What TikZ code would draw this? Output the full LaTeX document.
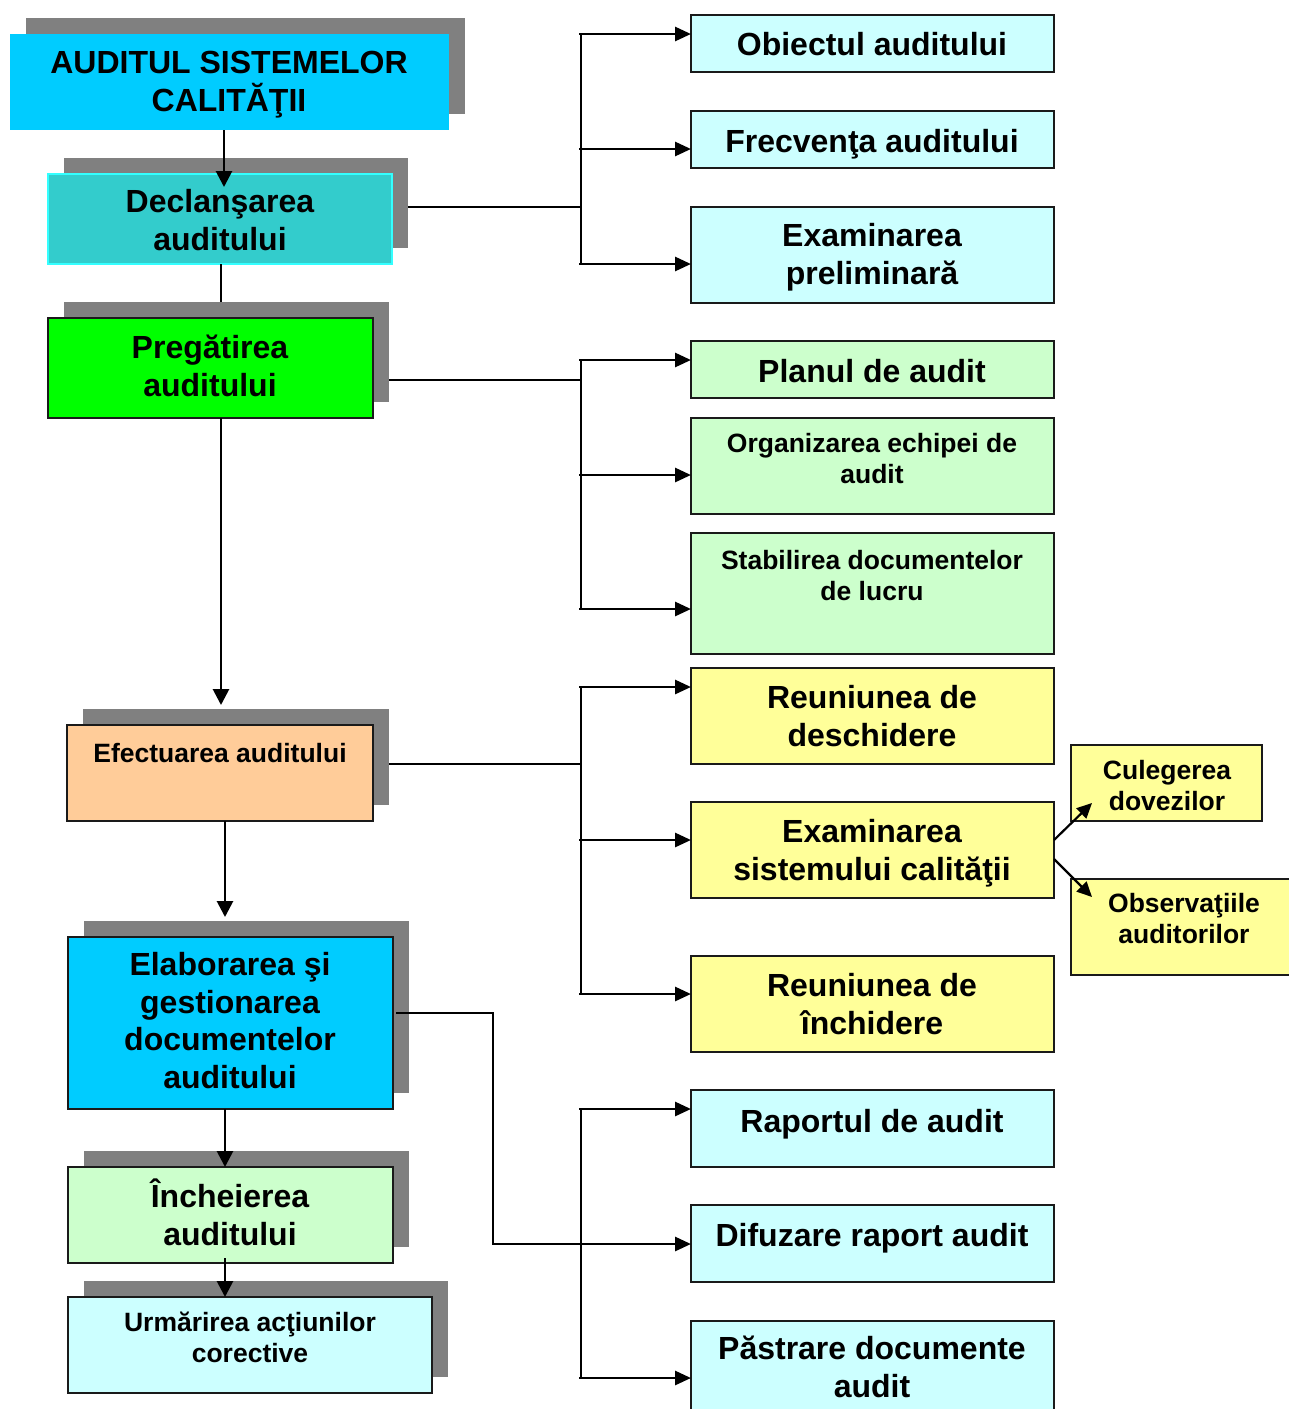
\documentclass[tikz,border=0pt]{standalone}
\usepackage{fontspec}
\setmainfont{Liberation Sans}
\usetikzlibrary{arrows.meta,shadows,calc}

\definecolor{shadowgray}{HTML}{808080}
\definecolor{topcyan}{HTML}{00CCFF}
\definecolor{teal}{HTML}{33CCCC}
\definecolor{tealedge}{HTML}{33FFFF}
\definecolor{brightgreen}{HTML}{00FF00}
\definecolor{peach}{HTML}{FFCC99}
\definecolor{palegreen}{HTML}{CCFFCC}
\definecolor{palecyan}{HTML}{CCFFFF}
\definecolor{paleyellow}{HTML}{FFFF99}
\definecolor{edge}{HTML}{1A1A1A}

% Multi-line labels are anchored at the baseline of their last line.
\tikzset{
  big/.style={font=\fontsize{32}{37.5}\selectfont\bfseries, align=center, anchor=base, inner sep=0pt},
  small/.style={font=\fontsize{26.5}{30.5}\selectfont\bfseries, align=center, anchor=base, inner sep=0pt},
  box/.style={rectangle, draw=edge, line width=2pt, anchor=north west, inner sep=0pt, outer sep=0pt},
  shadowed/.style={drop shadow={shadow xshift=16pt, shadow yshift=16pt, fill=shadowgray, opacity=1}},
  arr/.style={line width=2.8pt, -{Triangle[length=16pt,width=16pt]}},
  sidearr/.style={line width=2.8pt, -{Triangle[length=16pt,width=14pt]}},
  diagarr/.style={line width=2.2pt, -{Triangle[length=15pt,width=14pt]}},
  ln/.style={line width=2.8pt},
  thinln/.style={line width=1.8pt},
}

\begin{document}
\begin{tikzpicture}[x=1pt,y=-1pt]
\useasboundingbox (0,0) rectangle (1289,1409);

% ---- main process column (shadowed boxes) ----
\node[box, shadowed, draw=none, fill=topcyan, minimum width=439pt, minimum height=96pt] (b1) at (10,34) {};
\node[box, shadowed, draw=tealedge, fill=teal, minimum width=344pt, minimum height=90pt] (b2) at (48,174) {};
\node[box, shadowed, fill=brightgreen, minimum width=325pt, minimum height=100pt] (b3) at (48,318) {};
\node[box, shadowed, fill=peach, minimum width=306pt, minimum height=96pt] (b4) at (67,725) {};
\node[box, shadowed, fill=topcyan, minimum width=325pt, minimum height=172pt] (b5) at (68,937) {};
\node[box, shadowed, fill=palegreen, minimum width=325pt, minimum height=96pt] (b6) at (68,1167) {};
\node[box, shadowed, fill=palecyan, minimum width=364pt, minimum height=96pt] (b7) at (68,1297) {};

% ---- detail column ----
\node[box, fill=palecyan, minimum width=363pt, minimum height=57pt] (r1) at (691,15) {};
\node[box, fill=palecyan, minimum width=363pt, minimum height=57pt] (r2) at (691,111) {};
\node[box, fill=palecyan, minimum width=363pt, minimum height=96pt] (r3) at (691,207) {};
\node[box, fill=palegreen, minimum width=363pt, minimum height=57pt] (r4) at (691,341) {};
\node[box, fill=palegreen, minimum width=363pt, minimum height=96pt] (r5) at (691,418) {};
\node[box, fill=palegreen, minimum width=363pt, minimum height=121pt] (r6) at (691,533) {};
\node[box, fill=paleyellow, minimum width=363pt, minimum height=96pt] (r7) at (691,668) {};
\node[box, fill=paleyellow, minimum width=363pt, minimum height=96pt] (r8) at (691,802) {};
\node[box, fill=paleyellow, minimum width=363pt, minimum height=96pt] (r9) at (691,956) {};
\node[box, fill=palecyan, minimum width=363pt, minimum height=77pt] (r10) at (691,1090) {};
\node[box, fill=palecyan, minimum width=363pt, minimum height=77pt] (r11) at (691,1205) {};
\node[box, fill=palecyan, minimum width=363pt, minimum height=96pt] (r12) at (691,1321) {};

% ---- sub-steps of the system examination ----
\node[box, fill=paleyellow, minimum width=191pt, minimum height=76pt] (c1) at (1071,745) {};
\node[box, fill=paleyellow, minimum width=235pt, minimum height=96pt] (c2) at (1071,879) {};

% ---- labels ----
\node[big] (t-b1) at (229,111) {AUDITUL SISTEMELOR\\CALITĂŢII};
\node[big] (t-b2) at (220,250) {Declanşarea\\auditului};
\node[big] (t-b3) at (210,396) {Pregătirea\\auditului};
\node[small] (t-b4) at (220,762) {Efectuarea auditului};
\node[big] (t-b5) at (230,1088) {Elaborarea şi\\gestionarea\\documentelor\\auditului};
\node[big] (t-b6) at (230,1245) {Încheierea\\auditului};
\node[small] (t-b7) at (250,1362) {Urmărirea acţiunilor\\corective};

\node[big] (t-r1) at (872,55) {Obiectul auditului};
\node[big] (t-r2) at (872,152) {Frecvenţa auditului};
\node[big] (t-r3) at (872,284) {Examinarea\\preliminară};
\node[big] (t-r4) at (872,382) {Planul de audit};
\node[small] (t-r5) at (872,483) {Organizarea echipei de\\audit};
\node[small] (t-r6) at (872,600) {Stabilirea documentelor\\de lucru};
\node[big] (t-r7) at (872,746) {Reuniunea de\\deschidere};
\node[big] (t-r8) at (872,880) {Examinarea\\sistemului calităţii};
\node[big] (t-r9) at (872,1034) {Reuniunea de\\închidere};
\node[big] (t-r10) at (872,1132) {Raportul de audit};
\node[big] (t-r11) at (872,1246) {Difuzare raport audit};
\node[big] (t-r12) at (872,1397) {Păstrare documente\\audit};
\node[small] (t-c1) at (1167,810) {Culegerea\\dovezilor};
\node[small] (t-c2) at (1184,943) {Observaţiile\\auditorilor};

% ---- main flow ----
\draw[arr] ($(b1.south)+(-5.5,0)$) -- ($(b2.north)+(4,13)$);
\draw[ln]  ($(b2.south)+(1,0)$) -- ($(b3.north)+(10.5,-16)$);
\draw[arr] ($(b3.south)+(10.5,0)$) -- ($(b4.north)+(1,-20)$);
\draw[arr] ($(b4.south)+(5,0)$) -- ($(b5.north)+(-5.5,-20)$);
\draw[arr] ($(b5.south)+(-5.5,0)$) -- ($(b6.north)+(-5.5,0)$);
\draw[arr] ($(b6.south)+(-5.5,-5)$) -- ($(b7.north)+(-25,0)$);

% ---- entry points on the detail boxes ----
\coordinate (r1in) at ($(r1.west)+(0,-9.5)$);
\coordinate (r2in) at ($(r2.west)+(0,9.5)$);
\coordinate (r3in) at ($(r3.west)+(0,9)$);
\coordinate (r4in) at ($(r4.west)+(0,-9.5)$);
\coordinate (r5in) at ($(r5.west)+(0,9)$);
\coordinate (r6in) at ($(r6.west)+(0,15.5)$);
\coordinate (r7in) at ($(r7.west)+(0,-29)$);
\coordinate (r8in) at ($(r8.west)+(0,-10)$);
\coordinate (r9in) at ($(r9.west)+(0,-10)$);
\coordinate (r10in) at ($(r10.west)+(0,-19.5)$);
\coordinate (r11in) at ($(r11.west)+(0,0.5)$);
\coordinate (r12in) at ($(r12.west)+(0,9)$);

% ---- distribution buses ----
\coordinate (bus1) at ($(b2.east)+(189,-12)$);
\coordinate (bus2) at ($(b3.east)+(208,12)$);
\coordinate (bus3) at ($(b4.east)+(208,-9)$);
\coordinate (bus4) at ($(r11in)+(-110,0)$);

\draw[ln] ($(b2.east)+(16,-12)$) -- (bus1);
\draw[ln] (bus1 |- r1in) -- (bus1 |- r3in);
\foreach \t in {r1in,r2in,r3in} \draw[sidearr] ([xshift=-2pt]bus1 |- \t) -- (\t);

\draw[ln] ($(b3.east)+(16,12)$) -- (bus2);
\draw[ln] (bus2 |- r4in) -- (bus2 |- r6in);
\foreach \t in {r4in,r5in,r6in} \draw[sidearr] ([xshift=-2pt]bus2 |- \t) -- (\t);

\draw[ln] ($(b4.east)+(16,-9)$) -- (bus3);
\draw[ln] (bus3 |- r7in) -- (bus3 |- r9in);
\foreach \t in {r7in,r8in,r9in} \draw[sidearr] ([xshift=-2pt]bus3 |- \t) -- (\t);

\coordinate (elbow) at ($(b5.east)+(100,-10)$);
\draw[thinln] ($(b5.east)+(3,-10)$) -- (elbow) |- (bus4);
\draw[ln] (bus4 |- r10in) -- (bus4 |- r12in);
\foreach \t in {r10in,r11in,r12in} \draw[sidearr] ([xshift=-2pt]bus4 |- \t) -- (\t);

% ---- branches to the sub-steps ----
\draw[diagarr] ($(r8.east)+(0,-10)$) -- ($(c1.south west)+(21,-18)$);
\draw[diagarr] ($(r8.east)+(0,9)$) -- ($(c2.north west)+(21,18)$);
\end{tikzpicture}
\end{document}
